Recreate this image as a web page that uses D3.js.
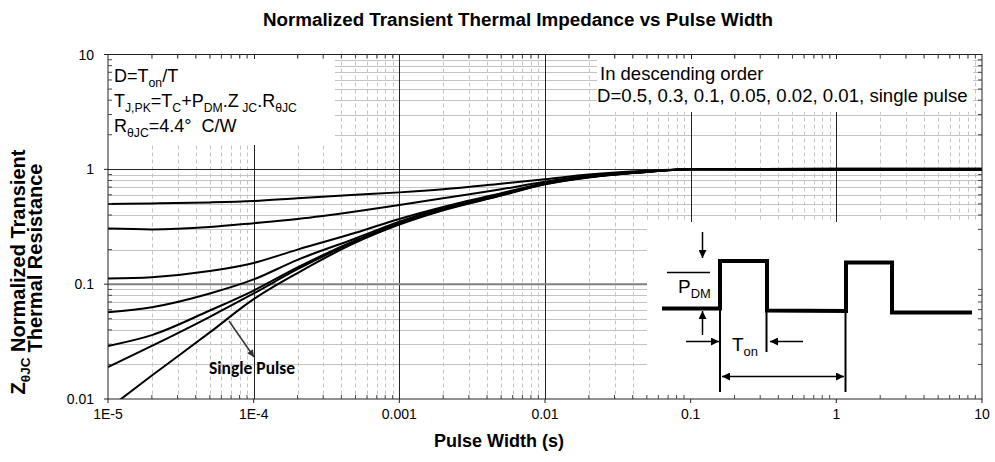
<!DOCTYPE html>
<html>
<head>
<meta charset="utf-8">
<script src="https://cdn.jsdelivr.net/npm/d3@7"></script>
<style>
  body { margin: 0; background: #fff; }
  svg text { font-family: "Liberation Sans", Arial, sans-serif; fill: #000; }
  .pre { white-space: pre; }
</style>
</head>
<body>
<div id="chart"></div>
<script>
const pulseWidth = [1e-5, 2e-5, 5e-5, 1e-4, 2e-4, 5e-4, 1e-3, 2e-3, 5e-3, 1e-2, 2e-2, 5e-2, 1e-1, 1, 10];

// normalized Zth for each duty cycle, in descending order
const zD05    = [0.50, 0.505, 0.515, 0.53, 0.56, 0.60, 0.63, 0.67, 0.75, 0.82, 0.90, 0.97, 1.0, 1.01, 1.01];
const zD03    = [0.305, 0.30, 0.315, 0.34, 0.37, 0.43, 0.49, 0.56, 0.67, 0.78, 0.88, 0.96, 1.0, 1.01, 1.01];
const zD01    = [0.112, 0.115, 0.13, 0.153, 0.20, 0.28, 0.37, 0.47, 0.62, 0.76, 0.87, 0.96, 1.0, 1.0, 1.0];
const zD005   = [0.057, 0.063, 0.083, 0.11, 0.163, 0.25, 0.35, 0.46, 0.61, 0.75, 0.86, 0.955, 1.0, 1.0, 1.0];
const zD002   = [0.029, 0.036, 0.059, 0.088, 0.14, 0.24, 0.34, 0.45, 0.60, 0.75, 0.86, 0.95, 1.0, 0.99, 0.99];
const zD001   = [0.019, 0.029, 0.052, 0.083, 0.135, 0.235, 0.335, 0.445, 0.595, 0.745, 0.855, 0.95, 1.0, 0.99, 0.99];
const zSingle = [0.0082, 0.016, 0.038, 0.074, 0.125, 0.23, 0.33, 0.44, 0.59, 0.74, 0.85, 0.95, 1.0, 0.99, 0.99];

const seriesNames = ["D=0.5", "D=0.3", "D=0.1", "D=0.05", "D=0.02", "D=0.01", "Single Pulse"];
const seriesValues = [zD05, zD03, zD01, zD005, zD002, zD001, zSingle];

const xTicks = [1e-5, 1e-4, 1e-3, 1e-2, 1e-1, 1, 10];
const xTickLabels = ["1E-5", "1E-4", "0.001", "0.01", "0.1", "1", "10"];
const yTicks = [0.01, 0.1, 1, 10];
const yTickLabels = ["0.01", "0.1", "1", "10"];

var width = 995, height = 462;
// plot box (note: "top" is reserved on window, so prefix everything)
var pLeft = 108, pRight = 982, pTop = 54.5, pBottom = 399;

var svg = d3.select("#chart").append("svg")
    .attr("width", width)
    .attr("height", height);

var x = d3.scaleLog().domain([1e-5, 10]).range([pLeft, pRight]);
var y = d3.scaleLog().domain([0.01, 10]).range([pBottom, pTop]);

// arrow heads used by the annotations
var defs = svg.append("defs");
defs.append("marker")
    .attr("id", "arrow")
    .attr("viewBox", "0 0 10 10")
    .attr("refX", 10).attr("refY", 5)
    .attr("markerWidth", 9).attr("markerHeight", 8)
    .attr("markerUnits", "userSpaceOnUse")
    .attr("orient", "auto-start-reverse")
    .append("path").attr("d", "M0,0L10,5L0,10z").attr("fill", "#000");

defs.append("marker")
    .attr("id", "arrowGrey")
    .attr("viewBox", "0 0 10 10")
    .attr("refX", 10).attr("refY", 5)
    .attr("markerWidth", 8).attr("markerHeight", 7)
    .attr("markerUnits", "userSpaceOnUse")
    .attr("orient", "auto")
    .append("path").attr("d", "M0,0L10,5L0,10z").attr("fill", "#333");

defs.append("clipPath").attr("id", "plotClip")
    .append("rect").attr("x", pLeft).attr("y", pTop)
    .attr("width", pRight - pLeft).attr("height", pBottom - pTop);

//__ grid
var minorX = [], minorY = [];
for (var e = -5; e < 1; e++) {
    for (var k = 2; k <= 9; k++) minorX.push(k * Math.pow(10, e));
}
for (var e = -2; e < 1; e++) {
    for (var k = 2; k <= 9; k++) minorY.push(k * Math.pow(10, e));
}

var grid = svg.append("g").attr("class", "grid");

grid.selectAll(".minorY").data(minorY).enter().append("line")
    .attr("x1", pLeft).attr("x2", pRight)
    .attr("y1", d => Math.round(y(d)) + 0.5).attr("y2", d => Math.round(y(d)) + 0.5)
    .attr("stroke", "#c4c4c4").attr("stroke-width", 1);

grid.selectAll(".minorX").data(minorX).enter().append("line")
    .attr("x1", d => Math.round(x(d)) + 0.5).attr("x2", d => Math.round(x(d)) + 0.5)
    .attr("y1", pTop).attr("y2", pBottom)
    .attr("stroke", "#c4c4c4").attr("stroke-width", 1)
    .attr("stroke-dasharray", "4,3");

grid.selectAll(".majorX").data(xTicks.slice(1, -1)).enter().append("line")
    .attr("x1", d => Math.round(x(d)) + 0.5).attr("x2", d => Math.round(x(d)) + 0.5)
    .attr("y1", pTop).attr("y2", pBottom)
    .attr("stroke", "#222").attr("stroke-width", 1);

grid.append("line")
    .attr("x1", pLeft).attr("x2", pRight)
    .attr("y1", Math.round(y(1)) + 0.5).attr("y2", Math.round(y(1)) + 0.5)
    .attr("stroke", "#222").attr("stroke-width", 1);

grid.append("line")
    .attr("x1", pLeft).attr("x2", pRight)
    .attr("y1", y(0.1)).attr("y2", y(0.1))
    .attr("stroke", "#808080").attr("stroke-width", 2);

//__ white note boxes sitting on top of the grid
var boxes = svg.append("g").attr("class", "boxes");
boxes.append("rect").attr("x", pLeft).attr("y", 59).attr("width", 227).attr("height", 86).attr("fill", "#fff");
boxes.append("rect").attr("x", 597).attr("y", 59).attr("width", 376).attr("height", 53).attr("fill", "#fff");
boxes.append("rect").attr("x", 647).attr("y", 222).attr("width", pRight - 647).attr("height", pBottom - 222).attr("fill", "#fff");

//__ curves
var line = d3.line()
    .x(d => x(d[0]))
    .y(d => y(d[1]))
    .curve(d3.curveMonotoneX);

svg.append("g").attr("clip-path", "url(#plotClip)")
    .selectAll("path").data(seriesValues).enter().append("path")
    .attr("class", (d, i) => "curve s" + i)
    .attr("d", vals => line(pulseWidth.map((t, i) => [t, vals[i]])))
    .attr("fill", "none")
    .attr("stroke", "#000")
    .attr("stroke-width", 2);

//__ frame and ticks
var frame = svg.append("g").attr("class", "frame");
frame.append("rect")
    .attr("x", pLeft).attr("y", pTop).attr("width", pRight - pLeft).attr("height", pBottom - pTop)
    .attr("fill", "none").attr("stroke", "#222").attr("stroke-width", 1);

// minor ticks point inward on every side
frame.selectAll(".tb").data(minorX).enter().append("line")
    .attr("x1", d => x(d)).attr("x2", d => x(d))
    .attr("y1", pBottom).attr("y2", pBottom - 4)
    .attr("stroke", "#444");
frame.selectAll(".tt").data(minorX).enter().append("line")
    .attr("x1", d => x(d)).attr("x2", d => x(d))
    .attr("y1", pTop).attr("y2", pTop + 4)
    .attr("stroke", "#444");
frame.selectAll(".tl").data(minorY).enter().append("line")
    .attr("x1", pLeft).attr("x2", pLeft + 4)
    .attr("y1", d => y(d)).attr("y2", d => y(d))
    .attr("stroke", "#444");
frame.selectAll(".tr").data(minorY).enter().append("line")
    .attr("x1", pRight).attr("x2", pRight - 4)
    .attr("y1", d => y(d)).attr("y2", d => y(d))
    .attr("stroke", "#444");

// major ticks point outward
frame.selectAll(".mb").data(xTicks).enter().append("line")
    .attr("x1", d => x(d)).attr("x2", d => x(d))
    .attr("y1", pBottom).attr("y2", pBottom + 4)
    .attr("stroke", "#222");
frame.selectAll(".ml").data(yTicks).enter().append("line")
    .attr("x1", pLeft).attr("x2", pLeft - 4)
    .attr("y1", d => y(d)).attr("y2", d => y(d))
    .attr("stroke", "#222");

//__ tick labels
svg.append("g").selectAll("text").data(xTicks).enter().append("text")
    .attr("x", d => x(d)).attr("y", 419)
    .attr("text-anchor", "middle")
    .style("font-size", "14px")
    .text((d, i) => xTickLabels[i]);

svg.append("g").selectAll("text").data(yTicks).enter().append("text")
    .attr("x", 94).attr("y", d => y(d) + 5)
    .attr("text-anchor", "end")
    .style("font-size", "14px")
    .text((d, i) => yTickLabels[i]);

//__ titles
svg.append("text")
    .attr("x", 518).attr("y", 26)
    .attr("text-anchor", "middle")
    .style("font-size", "18.8px").style("font-weight", "bold")
    .text("Normalized Transient Thermal Impedance vs Pulse Width");

svg.append("text")
    .attr("x", 499).attr("y", 447)
    .attr("text-anchor", "middle")
    .style("font-size", "18px").style("font-weight", "bold")
    .text("Pulse Width (s)");

// helper: text with subscripted parts, parts = [[text, isSub], ...]
function richText(g, px, py, size, parts, anchor) {
    var t = g.append("text").attr("x", px).attr("y", py)
        .attr("class", "pre")
        .attr("text-anchor", anchor || "start")
        .style("font-size", size + "px");
    var shift = 0;
    parts.forEach(function (p) {
        var target = p[1] ? Math.round(size * 0.25) : 0;
        t.append("tspan")
            .attr("dy", target - shift)
            .style("font-size", (p[1] ? size * 0.68 : size) + "px")
            .text(p[0]);
        shift = target;
    });
    return t;
}

var yTitle = svg.append("g").style("font-weight", "bold");
richText(yTitle, 0, 0, 20, [["Z", 0], ["θJC", 1], [" Normalized Transient", 0]], "middle")
    .attr("transform", "translate(25,272) rotate(-90)");
richText(yTitle, 0, 0, 20, [["Thermal Resistance", 0]], "middle")
    .attr("transform", "translate(42,258) rotate(-90)");

//__ note boxes text
var notes = svg.append("g");
richText(notes, 114, 82, 18, [["D=T", 0], ["on", 1], ["/T", 0]]);
richText(notes, 114, 107, 18, [["T", 0], ["J,PK", 1], ["=T", 0], ["C", 1], ["+P", 0], ["DM", 1],
    [".Z", 0], [" JC", 1], [".R", 0], ["θJC", 1]]);
richText(notes, 114, 132, 18, [["R", 0], ["θJC", 1], ["=4.4°  C/W", 0]]);

richText(notes, 600, 80, 18.5, [["In descending order", 0]]);
richText(notes, 597, 102, 18.6, [["D=0.5, 0.3, 0.1, 0.05, 0.02, 0.01, single pulse", 0]]);

//__ single pulse callout
svg.append("line")
    .attr("x1", 229).attr("y1", 321).attr("x2", 254).attr("y2", 357)
    .attr("stroke", "#333").attr("stroke-width", 1.5)
    .attr("marker-end", "url(#arrowGrey)");
svg.append("text")
    .attr("x", 209).attr("y", 374)
    .style("font-family", "Carlito, 'Open Sans', sans-serif")
    .style("font-size", "17.5px").style("font-weight", "bold")
    .text("Single Pulse");

//__ pulse train sketch in the lower right
var inset = svg.append("g").attr("class", "inset");
var wave = [[662, 308.5], [720, 308.5], [720, 261], [767, 261], [767, 310.5], [846, 311],
    [846, 262.5], [892, 262.5], [892, 312.5], [972, 312.5]];
inset.append("path")
    .attr("d", d3.line()(wave))
    .attr("fill", "none").attr("stroke", "#000").attr("stroke-width", 4)
    .attr("stroke-linejoin", "miter");

inset.append("line").attr("x1", 667).attr("x2", 710).attr("y1", 272.5).attr("y2", 272.5)
    .attr("stroke", "#000").attr("stroke-width", 1.5);

var thinLines = [[720, 310, 720, 392], [766.5, 312, 766.5, 352], [845.5, 312, 845.5, 392]];
inset.selectAll(".vl").data(thinLines).enter().append("line")
    .attr("x1", d => d[0]).attr("y1", d => d[1]).attr("x2", d => d[2]).attr("y2", d => d[3])
    .attr("stroke", "#000").attr("stroke-width", 2);

var arrows = [[702.5, 232, 702.5, 258], [702.5, 335, 702.5, 311], [686, 341.5, 719, 341.5], [803, 341.5, 770, 341.5]];
inset.selectAll(".ar").data(arrows).enter().append("line")
    .attr("x1", d => d[0]).attr("y1", d => d[1]).attr("x2", d => d[2]).attr("y2", d => d[3])
    .attr("stroke", "#000").attr("stroke-width", 1.5)
    .attr("marker-end", "url(#arrow)");

inset.append("line")
    .attr("x1", 722).attr("y1", 376.5).attr("x2", 844).attr("y2", 376.5)
    .attr("stroke", "#000").attr("stroke-width", 1.5)
    .attr("marker-start", "url(#arrow)")
    .attr("marker-end", "url(#arrow)");

richText(inset, 678, 293, 19, [["P", 0], ["DM", 1]]);
richText(inset, 732, 351, 19, [["T", 0], ["on", 1]]);
</script>
</body>
</html>
